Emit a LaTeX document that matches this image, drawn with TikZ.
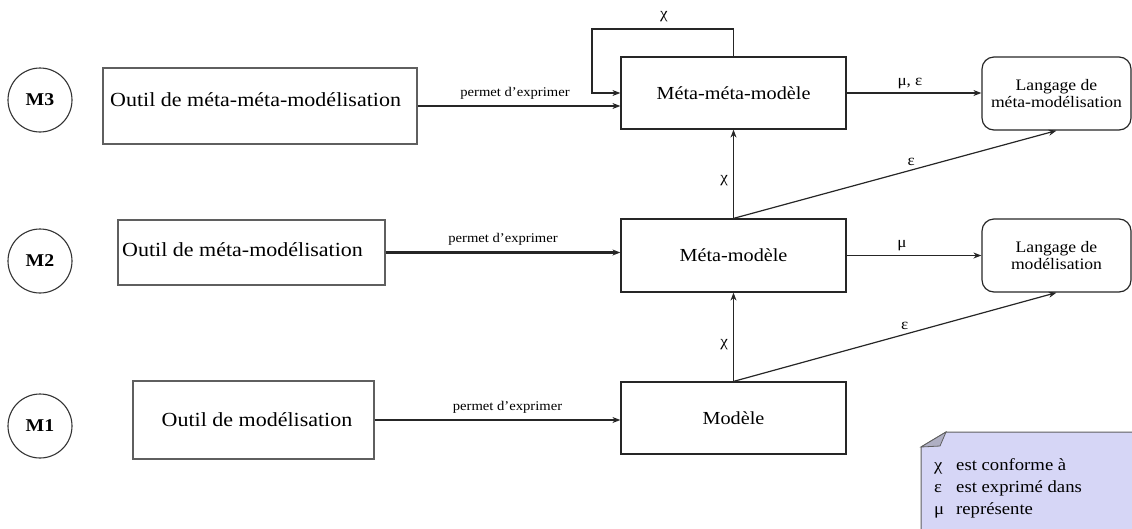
\documentclass[tikz,border=0pt]{standalone}
\usepackage{fontspec}
\setmainfont{Liberation Serif}[FakeStretch=1.1]
\usetikzlibrary{arrows.meta,calc}
\definecolor{notefill}{RGB}{214,214,246}
\definecolor{foldfill}{RGB}{175,175,195}
\definecolor{boxgray}{RGB}{95,95,95}
\begin{document}
\begin{tikzpicture}[x=1pt,y=-1pt,
 arr/.style={draw=black!85, line width=1.2pt, -{Stealth[length=8pt,width=6pt]}},
 thickarr/.style={arr, line width=2.2pt},
 level/.style={circle, draw=black!80, line width=1.1pt, minimum size=64pt, inner sep=0pt, font=\fontsize{18}{22}\selectfont\bfseries},
 tool/.style={draw=boxgray, line width=1.2pt, inner sep=0pt},
 tooltxt/.style={inner sep=0pt, font=\fontsize{20}{24}\selectfont},
 model/.style={draw=black!85, line width=1.2pt, minimum width=225pt, inner sep=0pt, font=\fontsize{18.4}{22}\selectfont},
 lang/.style={draw=black!85, line width=1.2pt, rounded corners=12pt, minimum width=149pt, minimum height=73pt, inner sep=0pt, align=center, font=\fontsize{16}{16.5}\selectfont},
 lbl/.style={inner sep=1pt, font=\fontsize{13.3}{16}\selectfont},
 greek/.style={inner sep=1pt, font=\fontsize{15.5}{18}\selectfont},
 notetext/.style={font=\fontsize{17}{21}\selectfont, inner sep=0pt, anchor=base west},
]
\useasboundingbox (0,0) rectangle (1132,528);

% level circles
\node[level] (m3) at (40,100) {M3};
\node[level] (m2) at (40,261) {M2};
\node[level] (m1) at (40,426) {M1};

% tool boxes
\node[tool, minimum width=314pt, minimum height=76pt] (omm) at (260,106) {};
\node[tooltxt, anchor=west] (ommt) at (110,100) {Outil de méta-méta-modélisation};
\node[tool, minimum width=267pt, minimum height=65pt] (omt) at (251.5,252.5) {};
\node[tooltxt, anchor=west] (omtt) at (122,250) {Outil de méta-modélisation};
\node[tool, minimum width=241pt, minimum height=78pt] (om) at (253.5,420) {};
\node[tooltxt] (omtx) at (257,420) {Outil de modélisation};

% model boxes
\node[model, minimum height=72pt] (mmm) at (733.5,93) {Méta-méta-modèle};
\node[model, minimum height=73pt] (mm) at (733.5,255.5) {Méta-modèle};
\node[model, minimum height=72pt] (mod) at (733.5,418) {Modèle};

% language boxes
\node[lang] (lmm) at (1056.5,93.5) {Langage de\\méta-modélisation};
\node[lang] (lm) at (1056.5,255.5) {Langage de\\modélisation};

% permet d'exprimer
\draw[arr] (omm.east) -- (omm.east -| mmm.west) node[midway, above=5pt, lbl, xshift=-4pt] (pe3) {permet d'exprimer};
\draw[thickarr] (omt.east) -- (omt.east -| mm.west) node[midway, above=5pt, lbl] (pe2) {permet d'exprimer};
\draw[thickarr] (om.east) -- (om.east -| mod.west) node[midway, above=5pt, lbl, xshift=10pt] (pe1) {permet d'exprimer};

% self loop
\coordinate (lp) at (592,29);
\draw[arr] (mmm.north) |- (lp) |- (mmm.west);
\node[greek] (chi0) at (664,17) {χ};

% conformance arrows
\draw[arr] (mm.north) -- (mmm.south) node[pos=0.43, left=4pt, greek] (chi1) {χ};
\draw[arr] (mod.north) -- (mm.south) node[pos=0.41, left=4pt, greek] (chi2) {χ};

% representation arrows
\draw[arr] (mmm.east) -- (lmm.west |- mmm.east) node[midway, above=3pt, greek, xshift=-4pt] (mue) {μ, ε};
\draw[arr] (mm.east) -- (lm.west) node[midway, above=3pt, greek, xshift=-12pt] (mu) {μ};

% expressed-in arrows
\draw[arr] (mm.north) -- (lmm.south) node[pos=0.55, above=3pt, greek] (eps1) {ε};
\draw[arr] (mod.north) -- (lm.south) node[pos=0.53, above=3pt, greek] (eps2) {ε};

% legend note
\path[fill=notefill, draw=boxgray, line width=1pt] (921,447) -- (946,432) -- (1140,432) -- (1140,540) -- (921,540) -- cycle;
\path[fill=foldfill, draw=boxgray, line width=0.8pt] (921,447) -- (946,432) -- (940,446) -- cycle;
\node[notetext] (n1) at (934,470) {\makebox[22pt][l]{χ}est conforme à};
\node[notetext] (n2) at (934,492) {\makebox[22pt][l]{ε}est exprimé dans};
\node[notetext] (n3) at (934,514) {\makebox[22pt][l]{μ}représente};
\end{tikzpicture}
\end{document}
